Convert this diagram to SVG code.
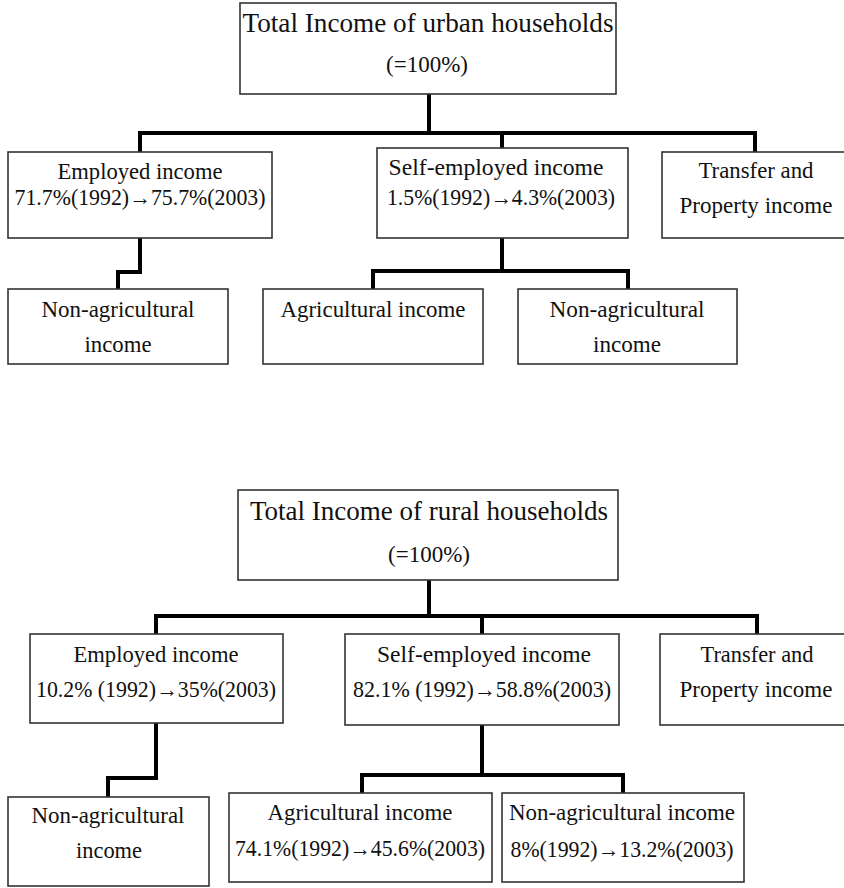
<svg xmlns="http://www.w3.org/2000/svg" width="844" height="888" viewBox="0 0 844 888">
<style>
.box{fill:#fff;stroke:#333;stroke-width:1.6}
.t{font-size:23px;fill:#111;text-anchor:middle}
.h{font-size:27px;fill:#111;text-anchor:middle}
.c{fill:none;stroke:#000;stroke-width:4;stroke-linejoin:miter;stroke-linecap:square}
</style>
<rect width="844" height="888" fill="#fff"/>
<g id="connectors">
<path class="c" d="M429,94 V133 M140,133 H755 M140,133 V152 M502,133 V148 M755,133 V152"/>
<path class="c" d="M140,238 V272 H118 V289"/>
<path class="c" d="M502,238 V271 M373,271 H628 M373,271 V289 M628,271 V289"/>
<path class="c" d="M429,580 V616 M156,616 H757 M156,616 V634 M482,616 V634 M757,616 V634"/>
<path class="c" d="M156,723 V778 H108 V797"/>
<path class="c" d="M482,725 V775 M362,775 H623 M362,775 V793 M623,775 V793"/>
</g>
<g font-family="Liberation Serif, DejaVu Serif, serif">
<g id="urban-total">
<rect class="box" x="240" y="3" width="376" height="91"/>
<text class="h" x="428" y="32" textLength="371" lengthAdjust="spacingAndGlyphs">Total Income of urban households</text>
<text class="t" x="427" y="72">(=100%)</text>
</g>
<g id="urban-employed">
<rect class="box" x="8" y="152" width="264" height="86"/>
<text class="t" x="140" y="179" textLength="165" lengthAdjust="spacingAndGlyphs">Employed income</text>
<text class="t" x="140" y="205" textLength="251" lengthAdjust="spacingAndGlyphs">71.7%(1992)→75.7%(2003)</text>
</g>
<g id="urban-self">
<rect class="box" x="377" y="148" width="251" height="90"/>
<text class="t" x="496" y="175" textLength="215" lengthAdjust="spacingAndGlyphs">Self-employed income</text>
<text class="t" x="501" y="205" textLength="228" lengthAdjust="spacingAndGlyphs">1.5%(1992)→4.3%(2003)</text>
</g>
<g id="urban-transfer">
<rect class="box" x="662" y="152" width="188" height="86"/>
<text class="t" x="756" y="178" textLength="115" lengthAdjust="spacingAndGlyphs">Transfer and</text>
<text class="t" x="756" y="213" textLength="153" lengthAdjust="spacingAndGlyphs">Property income</text>
</g>
<g id="urban-emp-nonagri">
<rect class="box" x="8" y="289" width="220" height="75"/>
<text class="t" x="118" y="317" textLength="153" lengthAdjust="spacingAndGlyphs">Non-agricultural</text>
<text class="t" x="118" y="352" textLength="67" lengthAdjust="spacingAndGlyphs">income</text>
</g>
<g id="urban-agri">
<rect class="box" x="263" y="289" width="220" height="75"/>
<text class="t" x="373" y="317" textLength="185" lengthAdjust="spacingAndGlyphs">Agricultural income</text>
</g>
<g id="urban-self-nonagri">
<rect class="box" x="518" y="289" width="219" height="75"/>
<text class="t" x="627" y="317" textLength="155" lengthAdjust="spacingAndGlyphs">Non-agricultural</text>
<text class="t" x="627" y="352" textLength="68" lengthAdjust="spacingAndGlyphs">income</text>
</g>
<g id="rural-total">
<rect class="box" x="238" y="490" width="380" height="90"/>
<text class="h" x="429" y="520" textLength="358" lengthAdjust="spacingAndGlyphs">Total Income of rural households</text>
<text class="t" x="429" y="562">(=100%)</text>
</g>
<g id="rural-employed">
<rect class="box" x="30" y="634" width="253" height="89"/>
<text class="t" x="156" y="662" textLength="165" lengthAdjust="spacingAndGlyphs">Employed income</text>
<text class="t" x="156" y="697" textLength="240" lengthAdjust="spacingAndGlyphs">10.2% (1992)→35%(2003)</text>
</g>
<g id="rural-self">
<rect class="box" x="345" y="634" width="274" height="91"/>
<text class="t" x="484" y="662" textLength="214" lengthAdjust="spacingAndGlyphs">Self-employed income</text>
<text class="t" x="482" y="697" textLength="258" lengthAdjust="spacingAndGlyphs">82.1% (1992)→58.8%(2003)</text>
</g>
<g id="rural-transfer">
<rect class="box" x="660" y="634" width="190" height="91"/>
<text class="t" x="757" y="662" textLength="113" lengthAdjust="spacingAndGlyphs">Transfer and</text>
<text class="t" x="756" y="697" textLength="153" lengthAdjust="spacingAndGlyphs">Property income</text>
</g>
<g id="rural-emp-nonagri">
<rect class="box" x="8" y="797" width="201" height="89"/>
<text class="t" x="108" y="823" textLength="153" lengthAdjust="spacingAndGlyphs">Non-agricultural</text>
<text class="t" x="109" y="858" textLength="66" lengthAdjust="spacingAndGlyphs">income</text>
</g>
<g id="rural-agri">
<rect class="box" x="229" y="793" width="263" height="89"/>
<text class="t" x="360" y="820" textLength="185" lengthAdjust="spacingAndGlyphs">Agricultural income</text>
<text class="t" x="360" y="856" textLength="250" lengthAdjust="spacingAndGlyphs">74.1%(1992)→45.6%(2003)</text>
</g>
<g id="rural-self-nonagri">
<rect class="box" x="502" y="793" width="242" height="89"/>
<text class="t" x="622" y="820" textLength="226" lengthAdjust="spacingAndGlyphs">Non-agricultural income</text>
<text class="t" x="622" y="857" textLength="223" lengthAdjust="spacingAndGlyphs">8%(1992)→13.2%(2003)</text>
</g>
</g>
</svg>
